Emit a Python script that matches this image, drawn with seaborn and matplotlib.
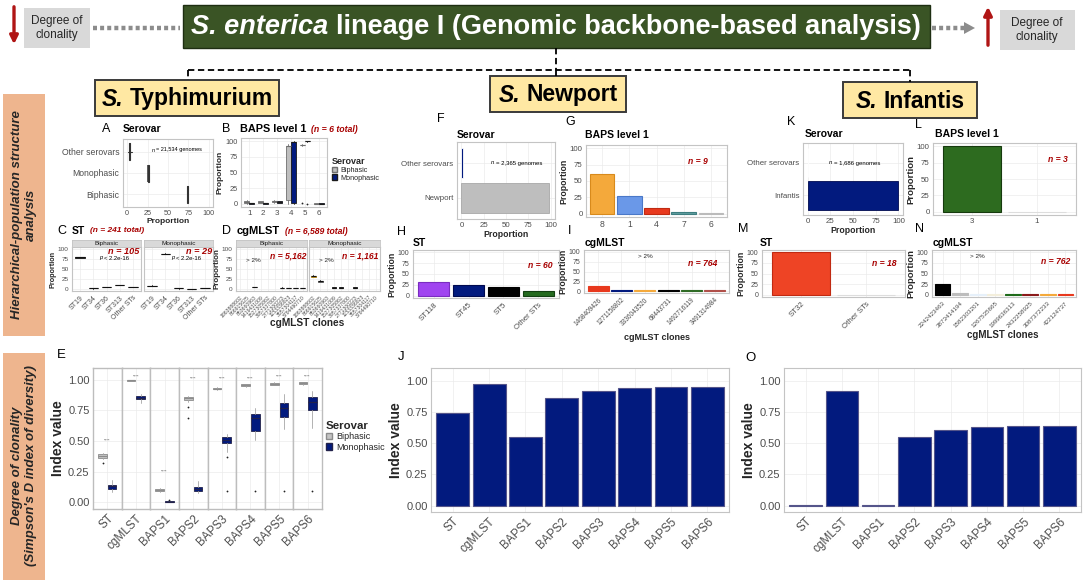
import matplotlib
matplotlib.use('Agg')
import matplotlib.pyplot as plt
import matplotlib.patches as mpatches
import seaborn as sns

W, H = 1084, 583

# ---------------- data ----------------
# A: serovar proportions (Typhimurium), boxplot five-number summaries
a_cats = ['Other serovars', 'Monophasic', 'Biphasic']
a_stats = [(1, 2, 3, 4, 6), (25.5, 25.8, 26, 26.3, 26.5), (73.5, 73.8, 74, 74.3, 74.5)]

# B: BAPS level 1
b_cats = ['1', '2', '3', '4', '5', '6']
b_bi = [(0, 2, 3.5, 5, 6), (1, 2, 3, 4, 5), (1, 2.5, 4, 5, 6), (0, 6, 92, 93, 95), (93, 93.5, 94, 94.5, 95), (0, 0.3, 0.5, 0.8, 1)]
b_bi_fl = [[], [], [], [], [1], []]
b_mono = [(0, 0.5, 1, 1.5, 2), (0, 0.5, 1, 1.5, 2), (1, 2, 3, 4, 5), (0, 1, 98, 99, 100), (99, 99.5, 100, 100, 100), (0, 0.3, 0.5, 0.8, 1)]
b_mono_fl = [[], [], [], [], [0.5], []]

# C: ST
c_sts = ['ST19', 'ST34', 'ST36', 'ST313', 'Other STs']
c_bi = [(77, 78, 79, 80, 81), (1, 1.5, 2, 2.5, 3), (4, 4.5, 5, 5.5, 6), (9, 9.5, 10, 10.5, 11), (4, 4.5, 5, 5.5, 6)]
c_mono = [(7, 7.5, 8, 8.5, 9), (87, 87.5, 88, 88.5, 89), (1, 1.5, 2, 2.5, 3), (0, 0.1, 0.3, 0.5, 0.6), (1.5, 2, 2.5, 3, 3.5)]

# D: cgMLST clones
d_clones = ['1863888602', '866915625', '853660963', '1419431009', '1527305862',
            '3957337800', '2771300223', '1153336923', '3557304117', '3784490710']
d_bi_idx = [2, 6, 7, 8, 9]
d_bi = [(4, 4.5, 5, 5.5, 6), (2, 2.5, 3, 3.5, 4), (1.5, 2, 2.5, 3, 3.5), (1.5, 2, 2.5, 3, 3.5), (1.5, 2, 2.5, 3, 3.5)]
d_mono_idx = [0, 1, 3, 4, 6]
d_mono = [(30, 31, 32, 33.5, 34), (17, 18, 19.5, 21, 22), (2.5, 3, 3.5, 4, 4.5), (2.5, 3, 3.5, 4, 4.5), (2.5, 3, 3.5, 4, 4.5)]

# E: Simpson's D per level, Typhimurium
e_names = ['ST', 'cgMLST', 'BAPS1', 'BAPS2', 'BAPS3', 'BAPS4', 'BAPS5', 'BAPS6']
e_bi = [(0.355, 0.36, 0.375, 0.39, 0.40), (0.99, 0.995, 1.0, 1.0, 1.0), (0.085, 0.09, 0.10, 0.11, 0.115),
        (0.82, 0.835, 0.85, 0.86, 0.87), (0.92, 0.925, 0.93, 0.935, 0.94), (0.945, 0.95, 0.96, 0.965, 0.97),
        (0.955, 0.96, 0.967, 0.975, 0.98), (0.96, 0.965, 0.973, 0.98, 0.985)]
e_bi_fl = [[0.32], [], [], [0.775, 0.685], [], [], [], []]
e_mono = [(0.08, 0.11, 0.13, 0.14, 0.18), (0.81, 0.84, 0.855, 0.865, 0.885), (0.0, 0.0, 0.002, 0.008, 0.01),
          (0.075, 0.09, 0.11, 0.12, 0.17), (0.41, 0.48, 0.505, 0.53, 0.56), (0.505, 0.58, 0.69, 0.72, 0.77),
          (0.60, 0.70, 0.77, 0.81, 0.885), (0.61, 0.75, 0.82, 0.86, 0.91)]
e_mono_fl = [[], [], [0.02], [], [0.365, 0.09], [0.09], [0.09], [0.09]]
e_stars = [0.50, 1.03, 0.25, 1.01, 1.01, 1.01, 1.03, 1.03]

# Newport
f_cats = ['Other serovars', 'Newport']
f_vals = [2, 98]
g_cats = ['8', '1', '4', '7', '6']
g_vals = [60, 27, 9.5, 2, 0.5]
h_cats = ['ST118', 'ST45', 'ST5', 'Other STs']
h_vals = [31, 24, 20, 11]
i_clones = ['1468409426', '1271158802', '3336043520', '68443731', '1492716119', '3491314984']
i_vals = [14, 3, 2.5, 2.5, 2.5, 2]
j_vals = [0.74, 0.97, 0.55, 0.86, 0.92, 0.94, 0.945, 0.945]

# Infantis
k_cats = ['Other serovars', 'Infantis']
k_vals = [1, 99]
l_cats = ['3', '1']
l_vals = [100, 0.3]
m_cats = ['ST32', 'Other STs']
m_vals = [100, 0.3]
n_clones = ['2242423463', '3873414194', '1582303201', '1267535665', '1999636313', '2432258925', '3087372233', '422124737']
n_vals = [26, 5, 2, 2, 3, 3, 3, 3]
o_vals = [0.003, 0.92, 0.002, 0.55, 0.605, 0.625, 0.635, 0.635]

# colours
NAVY = '#021A7E'
GREY = '#BEBEBE'
RED = '#A80000'
g_fill = ['#F4A93B', '#6A98E8', '#E8391E', '#5F9EA0', '#D3D3D3']
g_edge = ['#D88A1C', '#4A78C8', '#C02A12', '#3E7E80', '#BBBBBB']
h_fill = ['#A044F0', NAVY, '#000000', '#246B1F']
i_fill = ['#E8391E', NAVY, '#F4A93B', '#000000', '#2F6B25', '#B0504A']
n_fill = ['#000000', '#BDBDBD', '#E6F0FA', '#F3EEDB', '#1F6B1A', '#8B1A1A', '#F4A93B', '#E8391E']

# ---------------- figure ----------------
sns.set_theme(style='whitegrid')
plt.rcParams['font.family'] = ['Liberation Sans', 'DejaVu Sans']
NARROW = ['Liberation Sans Narrow', 'Liberation Sans', 'DejaVu Sans']

fig = plt.figure(figsize=(W / 100, H / 100), dpi=100)
fig.patch.set_facecolor('white')
ov = fig.add_axes([0, 0, 1, 1], zorder=10)
ov.set_xlim(0, W)
ov.set_ylim(H, 0)
ov.axis('off')
rend = fig.canvas.get_renderer()


def runs(x, y, parts, ha='left', size=8, color='black', family=None):
    objs, gaps = [], []
    for s, kw in parts:
        props = dict(fontsize=size, color=color)
        if family:
            props['family'] = family
        props.update(kw)
        gap = 0.0
        if s.startswith(' '):
            gap = 0.28 * props['fontsize'] * 100 / 72 * (len(s) - len(s.lstrip()))
            s = s.lstrip()
        objs.append(ov.text(0, y, s, va='center', ha='left', **props))
        gaps.append(gap)
    widths = [t.get_window_extent(rend).width for t in objs]
    total = sum(widths) + sum(gaps)
    pos = x - total / 2 if ha == 'center' else x
    for t, w, g in zip(objs, widths, gaps):
        pos += g
        t.set_x(pos)
        pos += w


def red_n(x, y, s, size=6.2):
    ov.text(x, y, s, ha='right', va='center', fontsize=size, color=RED, weight='bold', style='italic')


def panel(x0, y0, x1, y1):
    ax = fig.add_axes([x0 / W, 1 - y1 / H, (x1 - x0) / W, (y1 - y0) / H])
    ax.set_facecolor('white')
    for s in ax.spines.values():
        s.set_visible(True)
        s.set_color('#C4C4C4')
        s.set_linewidth(0.8)
    ax.grid(True, color='#EBEBEB', linewidth=0.5)
    ax.set_axisbelow(True)
    ax.tick_params(length=1.5, width=0.5, color='#B3B3B3', labelcolor='#4D4D4D', pad=1)
    return ax


def boxes(ax, pos, stats, fliers, width, face, edge, whisker=None, lw=0.6, horiz=False, med=None):
    st = [dict(whislo=s[0], q1=s[1], med=s[2], q3=s[3], whishi=s[4], fliers=f) for s, f in zip(stats, fliers)]
    kw = dict(positions=list(pos), widths=width, patch_artist=True, showcaps=False, manage_ticks=False,
              boxprops=dict(facecolor=face, edgecolor=edge, linewidth=lw),
              medianprops=dict(color=med or edge, linewidth=lw * 1.4),
              whiskerprops=dict(color=whisker or edge, linewidth=lw),
              flierprops=dict(marker='o', markersize=1.3, markerfacecolor='#222222', markeredgecolor='none'))
    try:
        ax.bxp(st, orientation='horizontal' if horiz else 'vertical', **kw)
    except TypeError:
        ax.bxp(st, vert=not horiz, **kw)


def strip(x0, x1, y0, y1, name, size=4.6):
    s = fig.add_axes([x0 / W, 1 - y1 / H, (x1 - x0) / W, (y1 - y0) / H])
    s.set_facecolor('#D9D9D9')
    s.set_xticks([])
    s.set_yticks([])
    for sp in s.spines.values():
        sp.set_color('#C4C4C4')
        sp.set_linewidth(0.6)
    s.text(0.5, 0.5, name, ha='center', va='center', fontsize=size, color='#1A1A1A', transform=s.transAxes)


def vbars(ax, cats, vals, fills, edges=None, width=0.9, lw=0.8):
    sns.barplot(x=cats, y=vals, hue=cats, palette=fills, legend=False, width=width, saturation=1,
                linewidth=lw, ax=ax)
    for p, e in zip(ax.patches, edges or fills):
        p.set_edgecolor(e)
    ax.xaxis.grid(True)
    ax.set_xlim(-0.6, len(cats) - 0.4)


def pct_axis(ax, size=5):
    ax.set_ylim(-5, 105)
    ax.set_yticks([0, 25, 50, 75, 100])
    ax.tick_params(axis='y', labelsize=size)


def rot_labels(ax, labels, size):
    ax.set_xticks(range(len(labels)))
    ax.set_xticklabels(labels, rotation=45, ha='right', rotation_mode='anchor', fontsize=size)


# ---------------- header graphics ----------------
ov.add_patch(mpatches.Rectangle((183, 5), 747, 43, facecolor='#3A5425', edgecolor='#1E2E12', lw=1))
runs(556, 27, [('S. enterica', dict(style='italic', weight='bold')),
               (' lineage I (Genomic backbone-based analysis)', dict(weight='bold'))],
     ha='center', size=19.5, color='white', family=NARROW)

ov.annotate('', xy=(14, 47), xytext=(14, 4),
            arrowprops=dict(arrowstyle='-|>', color='#B01515', lw=2.4, mutation_scale=12))
ov.add_patch(mpatches.Rectangle((24, 8), 66, 40, facecolor='#D9D9D9', edgecolor='none'))
ov.text(57, 28, 'Degree of\nclonality', ha='center', va='center', fontsize=8.5, family=NARROW, linespacing=1.2)
ov.plot([93, 180], [28, 28], color='#8C8C8C', lw=3.2, linestyle=(0, (0.9, 0.7)), solid_capstyle='butt')

ov.plot([932, 964], [28, 28], color='#8C8C8C', lw=3.2, linestyle=(0, (0.9, 0.7)))
ov.add_patch(mpatches.Polygon([(964, 22), (975, 28), (964, 34)], closed=True, facecolor='#8C8C8C', edgecolor='none'))
ov.annotate('', xy=(988, 4), xytext=(988, 48),
            arrowprops=dict(arrowstyle='-|>', color='#B01515', lw=2.4, mutation_scale=12))
ov.add_patch(mpatches.Rectangle((1000, 10), 75, 40, facecolor='#D9D9D9', edgecolor='none'))
ov.text(1037, 30, 'Degree of\nclonality', ha='center', va='center', fontsize=8.5, family=NARROW, linespacing=1.2)

dash = dict(color='black', lw=1.3, linestyle=(0, (3.5, 2)))
ov.plot([556, 556], [48, 70], **dash)
ov.plot([188, 910], [70, 70], **dash)
ov.plot([188, 188], [70, 80], **dash)
ov.plot([556, 556], [70, 76], **dash)
ov.plot([910, 910], [70, 82], **dash)

for (x0, y0, x1, y1, name) in [(95, 80, 279, 116, 'Typhimurium'), (490, 76, 626, 112, 'Newport'),
                               (843, 82, 977, 118, 'Infantis')]:
    ov.add_patch(mpatches.Rectangle((x0, y0), x1 - x0, y1 - y0, facecolor='#FFE8A3', edgecolor='#3A3A3A', lw=1.4))
    runs((x0 + x1) / 2, (y0 + y1) / 2 + 1, [('S.', dict(style='italic', weight='bold')), (' ' + name, dict(weight='bold'))],
         ha='center', size=16.5, family=NARROW)

ov.add_patch(mpatches.Rectangle((3, 94), 42, 242, facecolor='#EEB58E', edgecolor='none'))
ov.text(24, 215, 'Hierarchical-population structure\nanalysis', rotation=90, ha='center', va='center',
        fontsize=9.5, weight='bold', style='italic', linespacing=1.15)
ov.add_patch(mpatches.Rectangle((3, 353), 42, 227, facecolor='#EEB58E', edgecolor='none'))
ov.text(24, 466, "Degree of clonality\n(Simpson's D index of diversity)", rotation=90, ha='center', va='center',
        fontsize=9.5, weight='bold', style='italic', linespacing=1.15)

# ---------------- A ----------------
axA = panel(123, 139, 213, 207)
boxes(axA, range(3), a_stats, [[], [], []], 0.8, '#333333', '#333333', lw=0.8, horiz=True)
axA.set_ylim(2.6, -0.6)
axA.set_yticks(range(3))
axA.set_yticklabels(a_cats, fontsize=6.2)
axA.set_xlim(-5, 105)
axA.set_xticks([0, 25, 50, 75, 100])
axA.tick_params(axis='x', labelsize=5.2)
axA.set_xlabel('Proportion', fontsize=6, fontweight='bold', labelpad=0.5)
runs(102, 129, [('A', dict())], size=9)
runs(123, 129, [('Serovar', dict(weight='bold'))], size=7.5)
runs(177, 150, [('n', dict(style='italic')), (' = 21,534 genomes', dict())], ha='center', size=4)

# ---------------- B ----------------
axB = panel(241, 138, 327, 207)
boxes(axB, [i - 0.19 for i in range(6)], b_bi, b_bi_fl, 0.36, GREY, '#6E6E6E')
boxes(axB, [i + 0.19 for i in range(6)], b_mono, b_mono_fl, 0.36, NAVY, '#1A1A1A')
axB.set_xlim(-0.6, 5.6)
axB.set_xticks(range(6))
axB.set_xticklabels(b_cats, fontsize=5.8)
pct_axis(axB, 5.3)
axB.set_ylabel('Proportion', fontsize=6, fontweight='bold', labelpad=1)
runs(222, 129, [('B', dict())], size=9)
runs(240, 129, [('BAPS level 1', dict(weight='bold')),
                ('  (n = 6 total)', dict(weight='bold', style='italic', color=RED, fontsize=6.3))], size=7.8)
legB = fig.legend(handles=[mpatches.Patch(facecolor=GREY, edgecolor='#6E6E6E'),
                           mpatches.Patch(facecolor=NAVY, edgecolor='#1A1A1A')],
                  labels=['Biphasic', 'Monophasic'], title='Serovar', loc='upper left',
                  bbox_to_anchor=(332 / W, 1 - 157 / H), frameon=False, fontsize=5.2, title_fontsize=6.5,
                  handlelength=0.7, handleheight=0.7, handletextpad=0.4, labelspacing=0.1,
                  borderaxespad=0, borderpad=0)
legB.get_title().set_fontweight('bold')
legB._legend_box.align = 'left'

# ---------------- C ----------------
for k, (x0, x1, name, st) in enumerate([(72, 141, 'Biphasic', c_bi), (144, 213, 'Monophasic', c_mono)]):
    ax = panel(x0, 247, x1, 291)
    boxes(ax, range(5), st, [[]] * 5, 0.7, '#333333', '#111111', lw=0.6)
    rot_labels(ax, c_sts, 5)
    ax.set_xlim(-0.6, 4.6)
    pct_axis(ax, 4.6)
    if k == 0:
        ax.set_ylabel('Proportion', fontsize=5.2, fontweight='bold', labelpad=1)
    else:
        ax.set_yticklabels([])
        ax.tick_params(axis='y', length=0)
    strip(x0, x1, 240, 247, name)
runs(57, 231, [('C', dict())], size=9)
runs(72, 231, [('ST', dict(weight='bold')),
               ('  (n = 241 total)', dict(weight='bold', style='italic', color=RED, fontsize=6))], size=7.5)
red_n(139, 251.5, 'n = 105', 6.6)
red_n(212, 251.5, 'n = 29', 6.6)
runs(114, 258, [('p', dict(style='italic')), (' < 2.2e-16', dict())], ha='center', size=4.2)
runs(186, 258, [('p', dict(style='italic')), (' < 2.2e-16', dict())], ha='center', size=4.2)

# ---------------- D ----------------
for k, (x0, x1, name, idx, st) in enumerate([(236, 307, 'Biphasic', d_bi_idx, d_bi),
                                              (309, 380, 'Monophasic', d_mono_idx, d_mono)]):
    ax = panel(x0, 247, x1, 291)
    boxes(ax, idx, st, [[]] * len(idx), 0.7, '#333333', '#111111', lw=0.6)
    if k == 1:
        ax.patches[0].set_facecolor('#E3C070')
        ax.patches[0].set_edgecolor('#B8860B')
        ax.patches[1].set_facecolor('#9A9A9A')
        ax.patches[1].set_edgecolor('#555555')
    rot_labels(ax, d_clones, 3.7)
    ax.set_xlim(-0.6, len(d_clones) - 0.4)
    pct_axis(ax, 4.6)
    if k == 0:
        ax.set_ylabel('Proportion', fontsize=5.8, fontweight='bold', labelpad=1)
    else:
        ax.set_yticklabels([])
        ax.tick_params(axis='y', length=0)
    strip(x0, x1, 240, 247, name)
runs(222, 231, [('D', dict())], size=9)
runs(237, 231, [('cgMLST', dict(weight='bold')),
                ('  (n = 6,589 total)', dict(weight='bold', style='italic', color=RED, fontsize=6.2))], size=8)
red_n(306, 256, 'n = 5,162', 6.2)
red_n(378, 256, 'n = 1,161', 6.2)
ov.text(253, 260, '> 2%', ha='center', va='center', fontsize=4.6)
ov.text(326, 260, '> 2%', ha='center', va='center', fontsize=4.6)
ov.text(307, 323, 'cgMLST clones', ha='center', va='center', fontsize=7.3, weight='bold')

# ---------------- E ----------------
ew = (322 - 93) / 8
for i, name in enumerate(e_names):
    ax = panel(93 + i * ew, 368, 93 + (i + 1) * ew, 509)
    for s in ax.spines.values():
        s.set_color('#BDBDBD')
        s.set_linewidth(1.0)
    boxes(ax, [-0.2], [e_bi[i]], [e_bi_fl[i]], 0.36, '#C4C4C4', '#8C8C8C', whisker='#A6A6A6', lw=0.6)
    boxes(ax, [0.2], [e_mono[i]], [e_mono_fl[i]], 0.36, NAVY, '#22224A', whisker='#A6A6A6', lw=0.6)
    ax.text(0, e_stars[i], '****', ha='center', va='center', fontsize=3, color='#555555')
    ax.set_xlim(-0.6, 0.6)
    ax.set_ylim(-0.057, 1.098)
    ax.set_xticks([0])
    ax.set_xticklabels([name], rotation=45, ha='right', rotation_mode='anchor', fontsize=8.5)
    ax.set_yticks([0, 0.25, 0.5, 0.75, 1])
    if i == 0:
        ax.set_yticklabels(['0.00', '0.25', '0.50', '0.75', '1.00'], fontsize=8)
        ax.set_ylabel('Index value', fontsize=10, fontweight='bold', labelpad=2)
    else:
        ax.set_yticklabels([])
        ax.tick_params(axis='y', length=0)
runs(57, 355, [('E', dict())], size=9.5)
legE = fig.legend(handles=[mpatches.Patch(facecolor='#C4C4C4', edgecolor='#8C8C8C'),
                           mpatches.Patch(facecolor=NAVY, edgecolor='#22224A')],
                  labels=['Biphasic', 'Monophasic'], title='Serovar', loc='upper left',
                  bbox_to_anchor=(326 / W, 1 - 421 / H), frameon=False, fontsize=6.5, title_fontsize=8.2,
                  handlelength=0.7, handleheight=0.7, handletextpad=0.4, labelspacing=0.15,
                  borderaxespad=0, borderpad=0)
legE.get_title().set_fontweight('bold')
legE._legend_box.align = 'left'

# ---------------- F ----------------
axF = panel(457, 142, 555, 219)
sns.barplot(x=f_vals, y=f_cats, hue=f_cats, palette=[NAVY, GREY], legend=False, orient='h', width=0.88,
            saturation=1, linewidth=0.6, ax=axF)
axF.patches[1].set_edgecolor('#A8A8A8')
axF.yaxis.grid(True)
axF.set_ylim(1.6, -0.6)
axF.set_xlim(-5, 105)
axF.set_xticks([0, 25, 50, 75, 100])
axF.tick_params(axis='x', labelsize=5.7)
axF.tick_params(axis='y', labelsize=5.7)
axF.set_xlabel('Proportion', fontsize=6.3, fontweight='bold', labelpad=0.5)
runs(437, 119, [('F', dict())], size=9)
runs(457, 135.5, [('Serovar', dict(weight='bold'))], size=7.5)
runs(517, 163, [('n', dict(style='italic')), (' = 2,365 genomes', dict())], ha='center', size=4.3)

# ---------------- G ----------------
axG = panel(586, 145, 727, 217)
vbars(axG, g_cats, g_vals, g_fill, g_edge)
pct_axis(axG, 5.7)
axG.tick_params(axis='x', labelsize=6.2)
axG.set_ylabel('Proportion', fontsize=6.3, fontweight='bold', labelpad=1)
runs(565, 122, [('G', dict())], size=9)
runs(585, 135.5, [('BAPS level 1', dict(weight='bold'))], size=7.5)
red_n(708, 162, 'n = 9')

# ---------------- H ----------------
axH = panel(413, 250, 559, 298)
vbars(axH, h_cats, h_vals, h_fill, ['#7A2CC0', '#000A50', '#000000', '#124012'])
pct_axis(axH, 5)
rot_labels(axH, h_cats, 5.7)
axH.set_ylabel('Proportion', fontsize=6.3, fontweight='bold', labelpad=1)
runs(397, 232, [('H', dict())], size=9)
runs(413, 243, [('ST', dict(weight='bold'))], size=7.5)
red_n(553, 266, 'n = 60')

# ---------------- I ----------------
axI = panel(584, 250, 729, 293)
vbars(axI, i_clones, i_vals, i_fill)
pct_axis(axI, 5)
rot_labels(axI, i_clones, 4.7)
axI.set_ylabel('Proportion', fontsize=6.3, fontweight='bold', labelpad=1)
runs(568, 231, [('I', dict())], size=9)
runs(585, 243, [('cgMLST', dict(weight='bold'))], size=7.5)
ov.text(645, 256, '> 2%', ha='center', va='center', fontsize=4.6)
red_n(717, 264, 'n = 764')
ov.text(657, 337, 'cgMLST clones', ha='center', va='center', fontsize=6.5, weight='bold')

# ---------------- J ----------------
axJ = panel(431, 368, 729, 512)
sns.barplot(x=e_names, y=j_vals, color=NAVY, width=0.9, saturation=1, edgecolor='#55558A', linewidth=0.8, ax=axJ)
axJ.xaxis.grid(True)
axJ.set_xlim(-0.6, 7.6)
axJ.set_ylim(-0.05, 1.10)
axJ.set_yticks([0, 0.25, 0.5, 0.75, 1])
axJ.set_yticklabels(['0.00', '0.25', '0.50', '0.75', '1.00'], fontsize=8)
rot_labels(axJ, e_names, 8.5)
axJ.set_ylabel('Index value', fontsize=10, fontweight='bold', labelpad=2)
runs(398, 357, [('J', dict())], size=9.5)

# ---------------- K ----------------
axK = panel(803, 143, 903, 215)
sns.barplot(x=k_vals, y=k_cats, hue=k_cats, palette=['#C8C8C8', NAVY], legend=False, orient='h', width=0.88,
            saturation=1, linewidth=0.6, ax=axK)
axK.patches[1].set_edgecolor('#000A50')
axK.yaxis.grid(True)
axK.set_ylim(1.6, -0.6)
axK.set_xlim(-5, 105)
axK.set_xticks([0, 25, 50, 75, 100])
axK.tick_params(axis='x', labelsize=5.7)
axK.tick_params(axis='y', labelsize=5.7)
axK.set_xlabel('Proportion', fontsize=6.3, fontweight='bold', labelpad=0.5)
runs(787, 122, [('K', dict())], size=9)
runs(805, 134, [('Serovar', dict(weight='bold'))], size=7.5)
runs(855, 163, [('n', dict(style='italic')), (' = 1,686 genomes', dict())], ha='center', size=4.3)

# ---------------- L ----------------
axL = panel(933, 143, 1076, 215)
vbars(axL, l_cats, l_vals, ['#2D6B1F', '#DDDDDD'], ['#163A0E', '#DDDDDD'])
pct_axis(axL, 5.7)
axL.tick_params(axis='x', labelsize=5.7)
axL.set_ylabel('Proportion', fontsize=6.8, fontweight='bold', labelpad=1)
runs(915, 125, [('L', dict())], size=9)
runs(935, 134, [('BAPS level 1', dict(weight='bold'))], size=7.5)
red_n(1068, 160, 'n = 3')

# ---------------- M ----------------
axM = panel(762, 250, 905, 297)
vbars(axM, m_cats, m_vals, ['#EE4425', '#EEEEEE'], ['#C02A12', '#DDDDDD'])
pct_axis(axM, 5)
rot_labels(axM, m_cats, 5.7)
axM.set_ylabel('Proportion', fontsize=6.3, fontweight='bold', labelpad=1)
runs(738, 229, [('M', dict())], size=9)
runs(760, 243, [('ST', dict(weight='bold'))], size=7.5)
red_n(897, 263, 'n = 18')

# ---------------- N ----------------
axN = panel(932, 250, 1076, 297)
vbars(axN, n_clones, n_vals, n_fill)
pct_axis(axN, 5)
rot_labels(axN, n_clones, 4.5)
axN.set_ylabel('Proportion', fontsize=6.8, fontweight='bold', labelpad=1)
runs(915, 229, [('N', dict())], size=9)
runs(933, 243, [('cgMLST', dict(weight='bold'))], size=7.5)
ov.text(977, 256, '> 2%', ha='center', va='center', fontsize=4.6)
red_n(1070, 262, 'n = 762')
ov.text(1003, 335, 'cgMLST clones', ha='center', va='center', fontsize=7, weight='bold')

# ---------------- O ----------------
axO = panel(784, 368, 1081, 512)
sns.barplot(x=e_names, y=o_vals, color=NAVY, width=0.9, saturation=1, edgecolor='#55558A', linewidth=0.8, ax=axO)
axO.xaxis.grid(True)
axO.set_xlim(-0.6, 7.6)
axO.set_ylim(-0.05, 1.10)
axO.set_yticks([0, 0.25, 0.5, 0.75, 1])
axO.set_yticklabels(['0.00', '0.25', '0.50', '0.75', '1.00'], fontsize=8)
rot_labels(axO, e_names, 8.5)
axO.set_ylabel('Index value', fontsize=10, fontweight='bold', labelpad=2)
runs(745, 358, [('O', dict())], size=9.5)

fig.savefig('out.png', dpi=100)
